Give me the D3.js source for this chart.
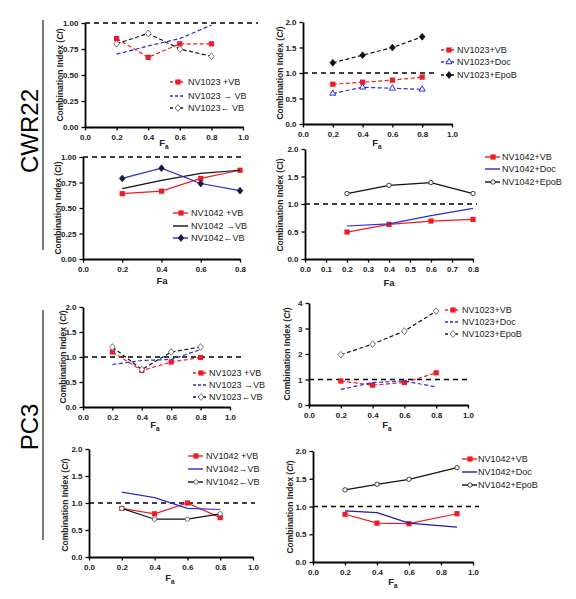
<!DOCTYPE html>
<html><head><meta charset="utf-8">
<script src="https://cdn.jsdelivr.net/npm/d3@7/dist/d3.min.js"></script>
<style>body{margin:0;background:#fff}svg{display:block}</style>
</head><body>
<svg id="c" width="576" height="599"></svg>
<script>
// ---------- DATA ----------
const fa = [0.2, 0.4, 0.6, 0.8];
const fa9 = [0.2, 0.4, 0.6, 0.9];

// CWR22 NV1023 sequence
const cwr1023Combo = [0.85, 0.67, 0.80, 0.80];
const cwr1023Fwd = [0.70, 0.78, 0.85, 0.98];
const cwr1023Rev = [0.80, 0.90, 0.75, 0.68];
// CWR22 NV1023 drugs
const cwr1023VB = [0.78, 0.82, 0.86, 0.92];
const cwr1023Doc = [0.60, 0.72, 0.70, 0.68];
const cwr1023EpoB = [1.20, 1.35, 1.50, 1.71];
// CWR22 NV1042 sequence
const cwr1042Combo = [0.64, 0.665, 0.79, 0.87];
const cwr1042Fwd = [0.69, 0.77, 0.84, 0.87];
const cwr1042Rev = [0.79, 0.89, 0.74, 0.67];
// CWR22 NV1042 drugs
const cwr1042VB = [0.49, 0.63, 0.69, 0.72];
const cwr1042Doc = [0.60, 0.64, 0.79, 0.92];
const cwr1042EpoB = [1.19, 1.34, 1.39, 1.19];
// PC3 NV1023 sequence
const pc1023Combo = [1.10, 0.73, 0.90, 0.99];
const pc1023Fwd = [0.85, 0.93, 0.95, 1.15];
const pc1023Rev = [1.20, 0.75, 1.10, 1.20];
// PC3 NV1023 drugs
const pc1023VB = [0.94, 0.78, 0.88, 1.26];
const pc1023Doc = [0.61, 0.88, 0.94, 0.71];
const pc1023EpoB = [1.97, 2.39, 2.90, 3.68];
// PC3 NV1042 sequence
const pc1042Combo = [0.90, 0.80, 1.00, 0.73];
const pc1042Fwd = [1.20, 1.10, 0.90, 0.88];
const pc1042Rev = [0.90, 0.70, 0.70, 0.80];
// PC3 NV1042 drugs
const pc1042VB = [0.86, 0.70, 0.69, 0.87];
const pc1042Doc = [0.92, 0.89, 0.70, 0.63];
const pc1042EpoB = [1.30, 1.40, 1.49, 1.70];

const ticksX10 = [0, 0.2, 0.4, 0.6, 0.8, 1.0];
const ticksX8 = [0, 0.2, 0.4, 0.6, 0.8];
const ticksX8b = [0, 0.1, 0.2, 0.3, 0.4, 0.5, 0.6, 0.7, 0.8];
const ticksY1 = [0, 0.25, 0.5, 0.75, 1.0];
const ticksY2 = [0, 0.5, 1.0, 1.5, 2.0];
const ticksY4 = [0, 1, 2, 3, 4];

// ---------- STYLE ----------
const RED = "#ee1c24", BLUE = "#2a2ad6", NAVY = "#1c1ca8", BLACK = "#111";
const FONT = "Liberation Sans, Arial, Helvetica, sans-serif";
const svg = d3.select("#c");

function groupLabel(txt, cx, cy, y0, y1) {
  svg.append("text").attr("transform", `translate(${cx},${cy}) rotate(-90)`)
    .attr("text-anchor", "middle").attr("dominant-baseline", "central")
    .attr("font-family", FONT).attr("font-size", 24).text(txt);
  svg.append("line").attr("x1", 43).attr("x2", 43).attr("y1", y0).attr("y2", y1)
    .attr("stroke", "#333").attr("stroke-width", 1.3);
}
groupLabel("CWR22", 29, 131, 20, 250);
groupLabel("PC3", 29, 427, 310, 540);

const diamondPath = "M0,-3.4L2.8,0L0,3.4L-2.8,0Z";
function marker(g, type, x, y, color, fill) {
  if (type === "square") {
    g.append("rect").attr("x", x - 2.6).attr("y", y - 2.6).attr("width", 5.2).attr("height", 5.2)
      .attr("fill", color);
  } else if (type === "diamond") {
    g.append("path").attr("d", diamondPath).attr("transform", `translate(${x},${y})`)
      .attr("fill", fill).attr("stroke", color).attr("stroke-width", 0.8);
  } else if (type === "triangle") {
    g.append("path").attr("d", d3.symbol(d3.symbolTriangle, 16)()).attr("transform", `translate(${x},${y})`)
      .attr("fill", "#fff").attr("stroke", color).attr("stroke-width", 1);
  } else if (type === "circle") {
    g.append("circle").attr("cx", x).attr("cy", y).attr("r", 2.2)
      .attr("fill", "#fff").attr("stroke", color).attr("stroke-width", 0.8);
  }
}

function panel(p) {
  const g = svg.append("g");
  const x = d3.scaleLinear().domain(p.xd).range(p.xr);
  const y = d3.scaleLinear().domain(p.yd).range(p.yr);
  g.append("line").attr("x1", p.xr[0]).attr("x2", p.refEnd).attr("y1", y(1)).attr("y2", y(1))
    .attr("stroke", "#000").attr("stroke-width", 1.4).attr("stroke-dasharray", "5,4");
  p.series.forEach(s => {
    const pts = s.v.map((v, i) => [x(s.x[i]), y(v)]);
    g.append("path").attr("d", d3.line()(pts)).attr("fill", "none")
      .attr("stroke", s.c).attr("stroke-width", 1.2)
      .attr("stroke-dasharray", s.dash ? "4,2.5" : null);
    if (s.m) pts.forEach(q => marker(g, s.m, q[0], q[1], s.mc || s.c, s.mf));
  });
  const ax = g.append("g").attr("transform", `translate(0,${p.yr[0]})`)
    .call(d3.axisBottom(x).tickValues(p.xt).tickFormat(d3.format(".1f")).tickSize(3.5).tickSizeOuter(0));
  const ay = g.append("g").attr("transform", `translate(${p.xr[0]},0)`)
    .call(d3.axisLeft(y).tickValues(p.yt).tickFormat(d3.format(p.yf)).tickSize(3.5).tickSizeOuter(0));
  [ax, ay].forEach(a => {
    a.select(".domain").attr("stroke", "#000").attr("stroke-width", 1.8);
    a.selectAll(".tick line").attr("stroke", "#000").attr("stroke-width", 1.3);
    a.selectAll("text").attr("font-family", FONT).attr("font-size", 8).attr("font-weight", "bold").attr("fill", "#222");
  });
  ax.selectAll("text").attr("dy", "0.85em");
  const xl = g.append("text").attr("x", p.xl[0]).attr("y", p.xl[1]).attr("text-anchor", "middle")
    .attr("font-family", FONT).attr("font-size", 9.5).attr("font-weight", "bold").attr("fill", "#222");
  if (p.sub) {
    xl.append("tspan").text("F");
    xl.append("tspan").attr("font-size", 6.5).attr("dy", 2.5).text("a");
  } else xl.text("Fa");
  const yl = g.append("text").attr("transform", `translate(${p.yl[0]},${p.yl[1]}) rotate(-90)`)
    .attr("text-anchor", "middle").attr("dominant-baseline", "central")
    .attr("font-family", FONT).attr("font-size", 8.5).attr("font-weight", "bold").attr("fill", "#222");
  yl.append("tspan").text("Combination Index (");
  yl.append("tspan").attr("font-style", p.italic ? "italic" : "normal").text("CI");
  yl.append("tspan").text(")");
  p.series.forEach((s, i) => {
    const ly = p.leg.ys[i];
    g.append("line").attr("x1", p.leg.lx).attr("x2", p.leg.lx + 15).attr("y1", ly).attr("y2", ly)
      .attr("stroke", s.c).attr("stroke-width", 1.4).attr("stroke-dasharray", s.dash ? "3,2" : null);
    if (s.m) marker(g, s.m, p.leg.lx + 8, ly, s.mc || s.c, s.mf);
    g.append("text").attr("x", p.leg.tx).attr("y", ly).attr("dominant-baseline", "central")
      .attr("font-family", FONT).attr("font-size", 9).attr("fill", "#222").text(s.name);
  });
}

// ---------- PANELS ----------
panel({ xd: [0, 1], xr: [85, 243], yd: [0, 1], yr: [127, 23], xt: ticksX10, yt: ticksY1, yf: ".2f",
  refEnd: 258, xl: [164, 146], sub: true, yl: [60, 75], italic: true,
  leg: { lx: 170, tx: 188, ys: [82, 96, 108] },
  series: [
    { name: "NV1023 +VB", x: fa, v: cwr1023Combo, c: RED, dash: true, m: "square" },
    { name: "NV1023 \u2192 VB", x: fa, v: cwr1023Fwd, c: BLUE, dash: true },
    { name: " NV1023\u2190 VB", x: fa, v: cwr1023Rev, c: BLACK, dash: true, m: "diamond", mc: "#555", mf: "#fff" }
  ] });

panel({ xd: [0, 1], xr: [303, 452], yd: [0, 2], yr: [124, 22], xt: ticksX10, yt: ticksY2, yf: ".1f",
  refEnd: 437, xl: [377, 146], sub: true, yl: [280, 73], italic: true,
  leg: { lx: 441, tx: 457, ys: [50, 62, 75] },
  series: [
    { name: "NV1023+VB", x: fa, v: cwr1023VB, c: RED, dash: true, m: "square" },
    { name: "NV1023+Doc", x: fa, v: cwr1023Doc, c: BLUE, dash: true, m: "triangle" },
    { name: "NV1023+EpoB", x: fa, v: cwr1023EpoB, c: BLACK, dash: true, m: "diamond", mf: BLACK }
  ] });

panel({ xd: [0, 0.8], xr: [83, 240], yd: [0, 1], yr: [259, 157], xt: ticksX8, yt: ticksY1, yf: ".2f",
  refEnd: 243, xl: [162, 284], sub: false, yl: [58, 208], italic: false,
  leg: { lx: 173, tx: 191, ys: [213, 226, 238] },
  series: [
    { name: "NV1042 +VB", x: fa, v: cwr1042Combo, c: RED, m: "square" },
    { name: "NV1042 \u2192VB", x: fa, v: cwr1042Fwd, c: BLACK },
    { name: "NV1042\u2190VB", x: fa, v: cwr1042Rev, c: BLUE, m: "diamond", mc: "#1a1a40", mf: "#1a1a40" }
  ] });

panel({ xd: [0, 0.8], xr: [305, 473], yd: [0, 2], yr: [259, 149], xt: ticksX8b, yt: ticksY2, yf: ".1f",
  refEnd: 477, xl: [389, 286], sub: false, yl: [280, 205], italic: false,
  leg: { lx: 485, tx: 502, ys: [157, 169, 182] },
  series: [
    { name: "NV1042+VB", x: fa, v: cwr1042VB, c: RED, m: "square" },
    { name: "NV1042+Doc", x: fa, v: cwr1042Doc, c: BLUE },
    { name: "NV1042+EpoB", x: fa, v: cwr1042EpoB, c: BLACK, m: "circle" }
  ] });

panel({ xd: [0, 1], xr: [83, 230], yd: [0, 2], yr: [407, 307], xt: ticksX10, yt: ticksY2, yf: ".1f",
  refEnd: 243, xl: [155, 428], sub: true, yl: [63, 357], italic: true,
  leg: { lx: 193, tx: 209, ys: [373, 385, 397] },
  series: [
    { name: "NV1023 +VB", x: fa, v: pc1023Combo, c: RED, dash: true, m: "square" },
    { name: "NV1023 \u2192VB", x: fa, v: pc1023Fwd, c: BLUE, dash: true },
    { name: "NV1023\u2190VB", x: fa, v: pc1023Rev, c: BLACK, dash: true, m: "diamond", mc: "#555", mf: "#fff" }
  ] });

panel({ xd: [0, 1], xr: [309, 468], yd: [0, 4], yr: [405, 303], xt: ticksX10, yt: ticksY4, yf: "d",
  refEnd: 468, xl: [387, 428], sub: true, yl: [287, 354], italic: true,
  leg: { lx: 445, tx: 462, ys: [310, 322, 334] },
  series: [
    { name: "NV1023+VB", x: fa, v: pc1023VB, c: RED, dash: true, m: "square" },
    { name: "NV1023+Doc", x: fa, v: pc1023Doc, c: BLUE, dash: true },
    { name: "NV1023+EpoB", x: fa, v: pc1023EpoB, c: BLACK, dash: true, m: "diamond", mc: "#555", mf: "#fff" }
  ] });

panel({ xd: [0, 1], xr: [89, 253], yd: [0, 2], yr: [557, 449], xt: ticksX10, yt: ticksY2, yf: ".1f",
  refEnd: 255, xl: [170, 581], sub: true, yl: [65, 505], italic: true,
  leg: { lx: 188, tx: 206, ys: [456, 469, 482] },
  series: [
    { name: "NV1042 +VB", x: fa, v: pc1042Combo, c: RED, m: "square" },
    { name: "NV1042\u2192VB", x: fa, v: pc1042Fwd, c: BLUE },
    { name: "NV1042\u2190VB", x: fa, v: pc1042Rev, c: BLACK, m: "circle", mc: "#555" }
  ] });

panel({ xd: [0, 1], xr: [313, 473], yd: [0, 2], yr: [562, 451], xt: ticksX10, yt: ticksY2, yf: ".1f",
  refEnd: 479, xl: [393, 585], sub: true, yl: [290, 507], italic: true,
  leg: { lx: 462, tx: 478, ys: [459, 472, 485] },
  series: [
    { name: "NV1042+VB", x: fa9, v: pc1042VB, c: RED, m: "square" },
    { name: "NV1042+Doc", x: fa9, v: pc1042Doc, c: NAVY },
    { name: "NV1042+EpoB", x: fa9, v: pc1042EpoB, c: BLACK, m: "circle" }
  ] });
</script>
</body></html>
